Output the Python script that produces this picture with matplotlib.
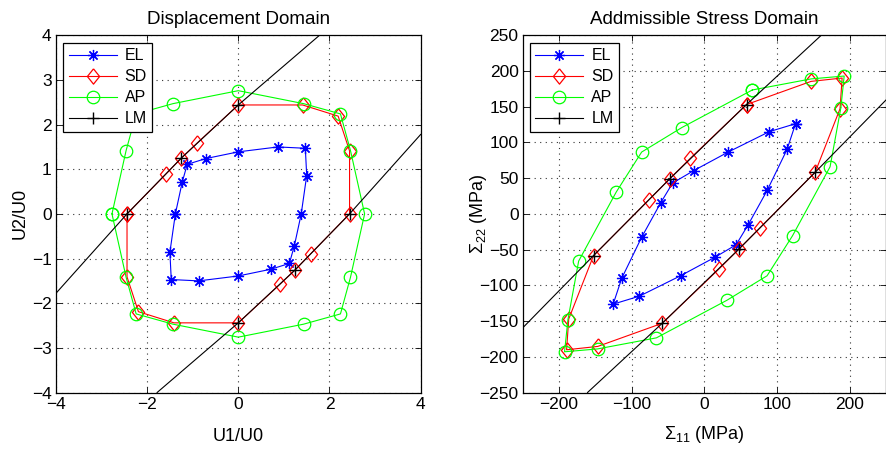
import numpy as np
import matplotlib
matplotlib.use("Agg")
import matplotlib.pyplot as plt

plt.rcParams['font.family'] = ['Liberation Sans', 'DejaVu Sans']
plt.rcParams['mathtext.fontset'] = 'custom'
plt.rcParams['mathtext.rm'] = 'Liberation Sans'
plt.rcParams['mathtext.it'] = 'Liberation Sans'

# ---------------- Displacement domain (left) ----------------
el_u1 = [-1.38, -1.23, -1.12, -0.71, 0.0, 0.87, 1.47, 1.50, 1.38, 1.23, 1.12, 0.71, 0.0, -0.87, -1.47, -1.50, -1.38]
el_u2 = [0.0, 0.71, 1.11, 1.24, 1.39, 1.50, 1.47, 0.86, 0.0, -0.71, -1.11, -1.24, -1.39, -1.50, -1.47, -0.86, 0.0]

sd_u1 = [-2.44, -1.59, -1.25, -0.91, 0.0, 1.41, 2.19, 2.44, 2.44, 1.59, 1.25, 0.91, 0.0, -1.41, -2.19, -2.44, -2.44]
sd_u2 = [0.0, 0.89, 1.25, 1.58, 2.44, 2.44, 2.19, 1.41, 0.0, -0.89, -1.25, -1.58, -2.44, -2.44, -2.19, -1.41, 0.0]

ap_u1 = [-2.77, -2.46, -2.24, -1.43, 0.0, 1.43, 2.24, 2.46, 2.77, 2.46, 2.24, 1.43, 0.0, -1.43, -2.24, -2.46, -2.77]
ap_u2 = [0.0, 1.42, 2.24, 2.47, 2.76, 2.47, 2.24, 1.42, 0.0, -1.42, -2.24, -2.47, -2.76, -2.47, -2.24, -1.42, 0.0]

lm_top_u1 = [-4.0, -2.44, -1.25, 0.0, 1.78]
lm_top_u2 = [-1.78, 0.0, 1.25, 2.44, 4.0]
lm_bot_u1 = [-1.78, 0.0, 1.25, 2.44, 4.0]
lm_bot_u2 = [-4.0, -2.44, -1.25, 0.0, 1.78]

# ---------------- Stress domain (right) ----------------
el_s11 = [125.5, 113.8, 86.5, 60.3, 43.7, 14.5, -32.8, -89.3, -125.5, -113.8, -86.5, -60.3, -43.7, -14.5, 32.8, 89.3, 125.5]
el_s22 = [126.3, 90.3, 33.0, -15.2, -43.2, -60.7, -86.6, -115.1, -126.3, -90.3, -33.0, 15.2, 43.2, 60.7, 86.6, 115.1, 126.3]

sd_s11 = [58.0, 146.8, 189.6, 186.7, 152.5, 76.7, 47.8, 19.5, -58.0, -146.8, -189.6, -186.7, -152.5, -76.7, -47.8, -19.5, 58.0]
sd_s22 = [153.1, 185.5, 190.2, 147.2, 58.3, -19.3, -49.0, -77.7, -153.1, -185.5, -190.2, -147.2, -58.3, 19.3, 49.0, 77.7, 153.1]

ap_s11 = [66.0, 147.0, 192.4, 187.8, 173.0, 121.3, 86.3, 31.0, -66.0, -147.0, -192.4, -187.8, -173.0, -121.3, -86.3, -31.0, 66.0]
ap_s22 = [173.5, 189.0, 193.0, 148.2, 66.0, -30.6, -86.6, -120.9, -173.5, -189.0, -193.0, -148.2, -66.0, 30.6, 86.6, 120.9, 173.5]

lm_top_s11 = [-250.0, -152.5, -47.8, 58.0, 160.8]
lm_top_s22 = [-159.5, -58.3, 49.0, 153.1, 250.0]
lm_bot_s11 = [-160.8, -58.0, 47.8, 152.5, 250.0]
lm_bot_s22 = [-250.0, -153.1, -49.0, 58.3, 159.5]

left_ticks = [-4, -3, -2, -1, 0, 1, 2, 3, 4]
left_xticks = [-4, -2, 0, 2, 4]
right_xticks = [-200, -100, 0, 100, 200]
right_yticks = [-250, -200, -150, -100, -50, 0, 50, 100, 150, 200, 250]

fig = plt.figure(figsize=(8.87, 4.51), dpi=100)
ax1 = fig.add_axes([0.0630, 0.1297, 0.4113, 0.7920])
ax2 = fig.add_axes([0.5893, 0.1297, 0.4096, 0.7920])

lw = 0.8
ms = 8
FS_TICK = 12.5
FS_LAB = 13
FS_LEG = 11.5

asterisk = (8, 2, 0)
diamond = [(0, 1), (0.8, 0), (0, -1), (-0.8, 0), (0, 1)]


def draw(ax, elx, ely, sdx, sdy, apx, apy, ltx, lty, lbx, lby):
    ax.plot(elx, ely, color='blue', lw=lw, marker=asterisk, ms=ms, mec='blue', mfc='blue', mew=0.9, label='EL', zorder=3)
    ax.plot(sdx, sdy, color='red', lw=lw, marker=diamond, ms=ms + 3, mec='red', mfc='none', mew=0.9, label='SD', zorder=3)
    ax.plot(apx, apy, color='#00ff00', lw=lw, marker='o', ms=ms + 1, mec='#00ff00', mfc='none', mew=0.9, label='AP', zorder=3)
    ax.plot(ltx, lty, color='black', lw=lw, marker='+', ms=ms + 1, mew=1.0, markevery=[1, 2, 3], label='LM', zorder=4)
    ax.plot(lbx, lby, color='black', lw=lw, marker='+', ms=ms + 1, mew=1.0, markevery=[1, 2, 3], zorder=4)
    ax.grid(True, linestyle=(0, (1, 4)), color='#333333', linewidth=0.8)
    ax.set_axisbelow(True)
    ax.tick_params(direction='in', top=True, right=True, length=4, width=0.6, labelsize=FS_TICK, pad=3)
    for s in ax.spines.values():
        s.set_linewidth(0.9)
    leg = ax.legend(loc='upper left', fontsize=FS_LEG, frameon=True, fancybox=False, edgecolor='black',
                    framealpha=1.0, borderpad=0.35, labelspacing=0.38, handlelength=3.0,
                    handletextpad=0.5, borderaxespad=0.45)
    leg.get_frame().set_linewidth(0.9)
    leg.set_zorder(10)


draw(ax1, el_u1, el_u2, sd_u1, sd_u2, ap_u1, ap_u2, lm_top_u1, lm_top_u2, lm_bot_u1, lm_bot_u2)
ax1.set_xlim(-4, 4)
ax1.set_ylim(-4, 4)
ax1.set_xticks(left_xticks)
ax1.set_yticks(left_ticks)
ax1.set_title('Displacement Domain', fontsize=FS_LAB + 0.5, pad=8)
ax1.set_xlabel('U1/U0', fontsize=FS_LAB, labelpad=12)
ax1.set_ylabel('U2/U0', fontsize=FS_LAB, labelpad=2)

draw(ax2, el_s11, el_s22, sd_s11, sd_s22, ap_s11, ap_s22, lm_top_s11, lm_top_s22, lm_bot_s11, lm_bot_s22)
ax2.set_xlim(-250, 250)
ax2.set_ylim(-250, 250)
ax2.set_xticks(right_xticks)
ax2.set_yticks(right_yticks)
ax2.set_title('Addmissible Stress Domain', fontsize=FS_LAB + 0.5, pad=8)
ax2.set_xlabel(r'$\Sigma_{11}$ (MPa)', fontsize=FS_LAB, labelpad=9)
ax2.set_ylabel(r'$\Sigma_{22}$ (MPa)', fontsize=FS_LAB)
ax2.yaxis.set_label_coords(-0.093, 0.5)

fig.savefig('out.png', dpi=100)
